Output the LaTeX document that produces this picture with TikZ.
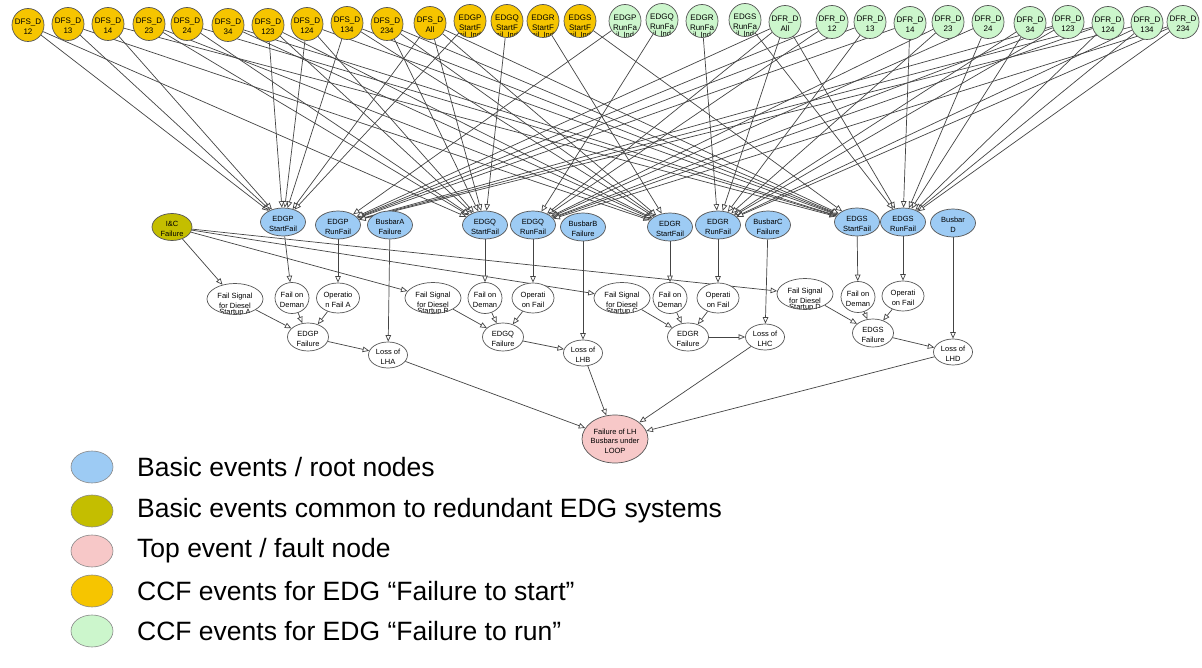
\documentclass[tikz,border=0pt]{standalone}
\usepackage{fontspec}
\setmainfont{Liberation Sans}
\usetikzlibrary{shapes.geometric,arrows.meta,backgrounds}

\definecolor{ccfS}{HTML}{F6C500}
\definecolor{ccfR}{HTML}{CCF6CC}
\definecolor{basic}{HTML}{9DCBF4}
\definecolor{common}{HTML}{C4BE00}
\definecolor{topc}{HTML}{F7C8C8}
\definecolor{edgecol}{HTML}{444444}
\definecolor{rimcol}{HTML}{555555}

% centred multi-line label that does not widen the node
\newcommand\lb[1]{\makebox[0pt]{\smash{\raisebox{-0.6em}{\begin{tabular}[c]{@{}c@{}}#1\end{tabular}}}}}

\begin{document}
\begin{tikzpicture}[x=1pt,y=-1pt,
  ev/.style={ellipse, draw=rimcol, line width=0.7pt, inner sep=0pt,
    font=\fontsize{7.5}{9.5}\selectfont},
  ccfs/.style={ev, fill=ccfS, minimum width=32pt, minimum height=33pt,
    font=\fontsize{8}{10}\selectfont},
  ccfr/.style={ccfs, fill=ccfR},
  root/.style={ev, fill=basic, minimum width=45pt, minimum height=28pt},
  shared/.style={ev, fill=common, minimum width=40pt, minimum height=27pt},
  gate/.style={ev, fill=white},
  topev/.style={ev, fill=topc, minimum width=66pt, minimum height=48pt},
  cutline/.style 2 args={path picture={\node[shape=rectangle, draw=none,
      fill=none, inner sep=0pt, minimum width=0pt, minimum height=0pt,
      anchor=center, font=\fontsize{7.5}{7.5}\selectfont]
      at ([yshift=-#2]path picture bounding box.center) {#1};}},
  edge/.style={draw=edgecol, line width=0.7pt,
    -{Triangle[length=6.5pt,width=5.5pt,fill=white]}},
  legdot/.style={ellipse, draw=rimcol!70, line width=0.6pt,
    minimum width=42pt, minimum height=32pt, inner sep=0pt},
  legtext/.style={anchor=west, inner sep=0pt,
    font=\fontsize{26.5}{30}\selectfont}
]
\useasboundingbox (0,0) rectangle (1202,668);

% ---- CCF events, failure to start ----
\node[ccfs] (s12)  at (28,25)  {\lb{DFS\_D\\12}};
\node[ccfs] (s13)  at (68,24)  {\lb{DFS\_D\\13}};
\node[ccfs] (s14)  at (108,24) {\lb{DFS\_D\\14}};
\node[ccfs] (s23)  at (149,24) {\lb{DFS\_D\\23}};
\node[ccfs] (s24)  at (187,24) {\lb{DFS\_D\\24}};
\node[ccfs] (s34)  at (228,25) {\lb{DFS\_D\\34}};
\node[ccfs] (s123) at (268,25) {\lb{DFS\_D\\123}};
\node[ccfs] (s124) at (307,24) {\lb{DFS\_D\\124}};
\node[ccfs] (s134) at (347,23) {\lb{DFS\_D\\134}};
\node[ccfs] (s234) at (387,24) {\lb{DFS\_D\\234}};
\node[ccfs] (sAll) at (430,23) {\lb{DFS\_D\\All}};
\node[ccfs, cutline={ail\_Ind}{14.5pt}] (sP) at (470,21) {\lb{EDGP\\StartF}};
\node[ccfs, cutline={ail\_Ind}{14.5pt}] (sQ) at (507,21) {\lb{EDGQ\\StartF}};
\node[ccfs, cutline={ail\_Ind}{14.5pt}] (sR) at (543,21) {\lb{EDGR\\StartF}};
\node[ccfs, cutline={ail\_Ind}{14.5pt}] (sS) at (580,21) {\lb{EDGS\\StartF}};

% ---- CCF events, failure to run ----
\node[ccfr, cutline={il\_Ind}{14.5pt}] (rP) at (625,21) {\lb{EDGP\\RunFa}};
\node[ccfr, cutline={il\_Ind}{14.5pt}] (rQ) at (662,20) {\lb{EDGQ\\RunFa}};
\node[ccfr, cutline={il\_Ind}{14.5pt}] (rR) at (702,21) {\lb{EDGR\\RunFa}};
\node[ccfr, cutline={il\_Ind}{14.5pt}] (rS) at (745,20) {\lb{EDGS\\RunFa}};
\node[ccfr] (rAll) at (785,22)  {\lb{DFR\_D\\All}};
\node[ccfr] (r12)  at (832,22)  {\lb{DFR\_D\\12}};
\node[ccfr] (r13)  at (870,22)  {\lb{DFR\_D\\13}};
\node[ccfr] (r14)  at (910,23)  {\lb{DFR\_D\\14}};
\node[ccfr] (r23)  at (948,22)  {\lb{DFR\_D\\23}};
\node[ccfr] (r24)  at (988,22)  {\lb{DFR\_D\\24}};
\node[ccfr] (r34)  at (1030,23) {\lb{DFR\_D\\34}};
\node[ccfr] (r123) at (1068,22) {\lb{DFR\_D\\123}};
\node[ccfr] (r124) at (1108,23) {\lb{DFR\_D\\124}};
\node[ccfr] (r134) at (1147,23) {\lb{DFR\_D\\134}};
\node[ccfr] (r234) at (1183,22) {\lb{DFR\_D\\234}};

% ---- basic events ----
\node[shared] (ic)   at (172,227) {\lb{I\&C\\Failure}};
\node[root] (stP)  at (283,222) {\lb{EDGP\\StartFail}};
\node[root] (ruP)  at (338,225) {\lb{EDGP\\RunFail}};
\node[root] (busA) at (390,225) {\lb{BusbarA\\Failure}};
\node[root] (stQ)  at (485,225) {\lb{EDGQ\\StartFail}};
\node[root] (ruQ)  at (533,225) {\lb{EDGQ\\RunFail}};
\node[root] (busB) at (583,227) {\lb{BusbarB\\Failure}};
\node[root] (stR)  at (670,227) {\lb{EDGR\\StartFail}};
\node[root] (ruR)  at (718,225) {\lb{EDGR\\RunFail}};
\node[root] (busC) at (768,225) {\lb{BusbarC\\Failure}};
\node[root] (stS)  at (857,222) {\lb{EDGS\\StartFail}};
\node[root] (ruS)  at (903,222) {\lb{EDGS\\RunFail}};
\node[root] (busD) at (953,223) {\lb{Busbar\\D}};

% ---- intermediate events ----
\foreach \n/\x/\y/\k in {A/235/299/A, B/433/298/B, C/622/298/C, D/805/294/D}
  \node[gate, minimum width=56pt, minimum height=31pt,
        cutline={Startup \k}{14pt}]
    (fs\n) at (\x,\y) {\lb{Fail Signal\\for Diesel}};
\foreach \n/\x/\y in {P/292/298, Q/485/298, R/670/298, S/858/297}
  \node[gate, minimum width=34pt, minimum height=31pt] (fd\n) at (\x,\y)
    {\lb{Fail on\\Deman}};
\node[gate, minimum width=43pt, minimum height=30pt] (opP) at (338,298) {\lb{Operatio\\n Fail A}};
\foreach \n/\x/\y in {Q/533/298, R/718/298, S/903/296}
  \node[gate, minimum width=42pt, minimum height=30pt] (op\n) at (\x,\y)
    {\lb{Operati\\on Fail}};
\foreach \n/\x/\y in {P/308/337, Q/503/337, R/688/337, S/873/333}
  \node[gate, minimum width=41pt, minimum height=28pt] (f\n) at (\x,\y)
    {\lb{EDG\n\\Failure}};
\foreach \n/\x/\y in {A/388/355, B/583/353, C/765/337, D/953/352}
  \node[gate, minimum width=39pt, minimum height=26pt] (l\n) at (\x,\y)
    {\lb{Loss of\\LH\n}};

% ---- top event ----
\node[topev] (top) at (615,439) {\lb{Failure of LH\\Busbars under\\LOOP}};

% ---- connectors ----
\begin{scope}[on background layer]
\fill[white] (0,0) rectangle (1202,668);
\foreach \c/\ts in {12/{P,Q},13/{P,R},14/{P,S},23/{Q,R},24/{Q,S},34/{R,S},
    123/{P,Q,R},124/{P,Q,S},134/{P,R,S},234/{Q,R,S},All/{P,Q,R,S},
    P/P,Q/Q,R/R,S/S}
  \foreach \t in \ts {
    \draw[edge] (s\c) -- (st\t);
    \draw[edge] (r\c) -- (ru\t);
  }
\foreach \n in {A,B,C,D} \draw[edge] (ic) -- (fs\n);
\foreach \e/\b/\s in {P/A/A, Q/B/B, R/C/C, S/D/D} {
  \draw[edge] (st\e) -- (fd\e);
  \draw[edge] (ru\e) -- (op\e);
  \draw[edge] (bus\b) -- (l\b);
  \draw[edge] (fs\s) -- (f\e);
  \draw[edge] (fd\e) -- (f\e);
  \draw[edge] (op\e) -- (f\e);
  \draw[edge] (f\e) -- (l\b);
  \draw[edge] (l\b) -- (top);
}
\end{scope}

% ---- legend ----
\node[legdot, fill=basic]  (leg1) at (92,467) {};
\node[legdot, fill=common] (leg2) at (92,511) {};
\node[legdot, fill=topc]   (leg3) at (92,551) {};
\node[legdot, fill=ccfS]   (leg4) at (92,591) {};
\node[legdot, fill=ccfR]   (leg5) at (92,631) {};
\node[legtext] (lt1) at (137,467) {Basic events / root nodes};
\node[legtext] (lt2) at (137,511) {Basic events common to redundant EDG systems};
\node[legtext] (lt3) at (137,551) {Top event / fault node};
\node[legtext] (lt4) at (137,591) {CCF events for EDG “Failure to start”};
\node[legtext] (lt5) at (137,631) {CCF events for EDG “Failure to run”};
\end{tikzpicture}
\end{document}
